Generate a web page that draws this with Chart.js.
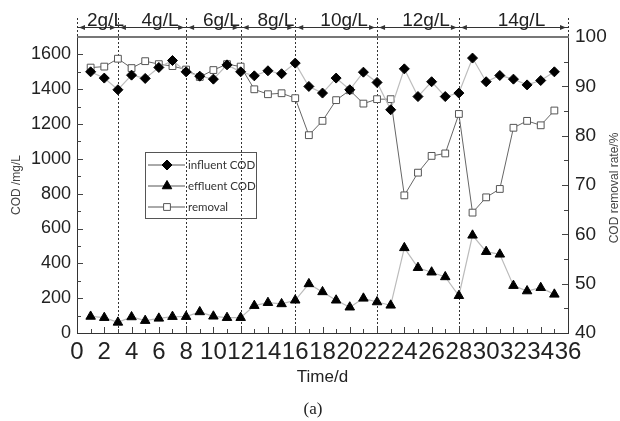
<!DOCTYPE html>
<html>
<head>
<meta charset="utf-8">
<script src="https://cdn.jsdelivr.net/npm/chart.js@4.4.1/dist/chart.umd.min.js"></script>
<style>
  html, body { margin: 0; padding: 0; background: #fff; }
  .chart-wrap { width: 620px; height: 421px; position: relative; }
</style>
</head>
<body>
<div class="chart-wrap"><canvas id="chart"></canvas></div>
<script>
const days = [1, 2, 3, 4, 5, 6, 7, 8, 9, 10, 11, 12, 13, 14, 15, 16, 17, 18, 19, 20, 21, 22, 23, 24, 25, 26, 27, 28, 29, 30, 31, 32, 33, 34, 35];
const influentCOD = [1500, 1464, 1397, 1481, 1462, 1525, 1565, 1500, 1475, 1458, 1540, 1500, 1477, 1506, 1489, 1550, 1416, 1378, 1464, 1397, 1498, 1439, 1282, 1517, 1358, 1443, 1358, 1378, 1579, 1443, 1479, 1458, 1425, 1450, 1500];
const effluentCOD = [95, 88, 61, 92, 71, 84, 94, 94, 121, 96, 88, 88, 157, 174, 167, 188, 282, 236, 188, 148, 199, 178, 159, 489, 375, 349, 322, 214, 561, 467, 452, 272, 241, 260, 222];
const removalRate = [93.8, 94.0, 95.6, 93.7, 95.1, 94.5, 94.1, 93.4, 91.9, 93.3, 94.5, 94.0, 89.4, 88.4, 88.6, 87.6, 80.1, 83.0, 87.2, 89.2, 86.5, 87.4, 87.4, 67.9, 72.5, 75.9, 76.4, 84.4, 64.4, 67.5, 69.2, 81.6, 83.0, 82.1, 85.1];

const stageBounds = [0, 3, 8, 12, 16, 22, 28, 36];
const stageLabels = ['2g/L', '4g/L', '6g/L', '8g/L', '10g/L', '12g/L', '14g/L'];
const codTicks = [0, 200, 400, 600, 800, 1000, 1200, 1400, 1600];
const rateTicks = [40, 50, 60, 70, 80, 90, 100];
const dayTicks = [0, 2, 4, 6, 8, 10, 12, 14, 16, 18, 20, 22, 24, 26, 28, 30, 32, 34, 36];

const FONT = "'Liberation Sans', Arial, sans-serif";
const INK = '#222';

const toPoints = values => values.map((v, i) => ({ x: days[i], y: v }));

// inward tick marks, dotted stage lines, header arrows, legend, captions
const decorPlugin = {
  id: 'decor',
  beforeDatasetsDraw: chart => {
    const ctx = chart.ctx;
    const { left, right, top, bottom } = chart.chartArea;
    const sx = chart.scales.x;
    const sy = chart.scales.y;
    const sy1 = chart.scales.y1;
    ctx.save();
    ctx.strokeStyle = '#333';
    ctx.lineWidth = 1;
    // stage separators
    ctx.setLineDash([2, 2]);
    stageBounds.forEach(d => {
      const px = Math.round(sx.getPixelForValue(d)) + 0.5;
      const yEnd = (d === stageBounds[0] || d === stageBounds[stageBounds.length - 1]) ? top : bottom;
      ctx.beginPath();
      ctx.moveTo(px, 18);
      ctx.lineTo(px, yEnd);
      ctx.stroke();
    });
    ctx.setLineDash([]);
    // tick marks pointing into the plot
    ctx.strokeStyle = '#444';
    for (let d = 1; d < 36; d++) {
      const px = Math.round(sx.getPixelForValue(d)) + 0.5;
      const len = d % 2 === 0 ? 6 : 4;
      ctx.beginPath();
      ctx.moveTo(px, bottom);
      ctx.lineTo(px, bottom - len);
      ctx.stroke();
    }
    for (let v = 100; v < 1700; v += 100) {
      const py = Math.round(sy.getPixelForValue(v)) + 0.5;
      const len = v % 200 === 0 ? 6 : 4;
      ctx.beginPath();
      ctx.moveTo(left, py);
      ctx.lineTo(left + len, py);
      ctx.stroke();
    }
    for (let v = 45; v < 100; v += 5) {
      const py = Math.round(sy1.getPixelForValue(v)) + 0.5;
      const len = v % 10 === 0 ? 6 : 4;
      ctx.beginPath();
      ctx.moveTo(right, py);
      ctx.lineTo(right - len, py);
      ctx.stroke();
    }
    // top border of the plot box
    ctx.strokeStyle = '#777';
    ctx.lineWidth = 2;
    ctx.beginPath();
    ctx.moveTo(left, top);
    ctx.lineTo(right + 1, top);
    ctx.stroke();
    ctx.restore();
  },
  afterDraw: chart => {
    const ctx = chart.ctx;
    const { left, right, top, bottom } = chart.chartArea;
    const sx = chart.scales.x;
    ctx.save();
    // header arrow line
    const arrowY = 27.5;
    ctx.strokeStyle = '#333';
    ctx.fillStyle = '#333';
    ctx.lineWidth = 1;
    ctx.beginPath();
    ctx.moveTo(left, arrowY);
    ctx.lineTo(right, arrowY);
    ctx.stroke();
    const arrow = (tipX, dir) => {
      ctx.beginPath();
      ctx.moveTo(tipX, arrowY);
      ctx.lineTo(tipX - dir * 6, arrowY - 2.5);
      ctx.lineTo(tipX - dir * 6, arrowY + 2.5);
      ctx.closePath();
      ctx.fill();
    };
    ctx.font = `19px ${FONT}`;
    ctx.textAlign = 'center';
    ctx.textBaseline = 'alphabetic';
    stageLabels.forEach((label, i) => {
      const x0 = sx.getPixelForValue(stageBounds[i]);
      const x1 = sx.getPixelForValue(stageBounds[i + 1]);
      ctx.fillStyle = '#333';
      arrow(x0 + 2, -1);
      arrow(x1 - 2, 1);
      ctx.fillStyle = INK;
      ctx.fillText(label, (x0 + x1) / 2 + 8, 26);
    });

    // legend
    const lx = left + 68;
    const ly = top + 115;
    ctx.strokeStyle = '#555';
    ctx.lineWidth = 1;
    ctx.strokeRect(lx + 0.5, ly + 0.5, 111, 66);
    ctx.font = `11.5px Lato, 'Open Sans', sans-serif`;
    ctx.textAlign = 'left';
    ctx.textBaseline = 'middle';
    chart.data.datasets.forEach((ds, i) => {
      const ry = ly + 13 + i * 21;
      ctx.strokeStyle = '#555';
      ctx.beginPath();
      ctx.moveTo(lx + 3, ry);
      ctx.lineTo(lx + 40, ry);
      ctx.stroke();
      ctx.fillStyle = ds.pointBackgroundColor;
      ctx.strokeStyle = ds.pointBorderColor;
      ctx.lineWidth = 1;
      Chart.helpers.drawPoint(ctx, {
        pointStyle: ds.pointStyle,
        radius: ds.pointRadius,
        rotation: 0,
        borderWidth: 1,
      }, lx + 22, ry);
      ctx.fillStyle = '#333';
      ctx.fillText(ds.label, lx + 43, ry);
    });

    // right axis title
    ctx.save();
    ctx.translate(615, (top + bottom) / 2 + 3);
    ctx.rotate(-Math.PI / 2);
    ctx.font = `12px ${FONT}`;
    ctx.fillStyle = '#444';
    ctx.textAlign = 'center';
    ctx.textBaseline = 'middle';
    ctx.fillText('COD removal rate/%', 0, 0);
    ctx.restore();

    // caption
    ctx.font = "17px 'Liberation Serif', 'Times New Roman', serif";
    ctx.fillStyle = INK;
    ctx.textAlign = 'center';
    ctx.textBaseline = 'middle';
    ctx.fillText('(a)', 313, 410);
    ctx.restore();
  },
};

const chartElement = document.getElementById('chart');
new Chart(chartElement, {
  type: 'line',
  data: {
    datasets: [
      {
        label: 'influent COD',
        data: toPoints(influentCOD),
        yAxisID: 'y',
        borderColor: '#bdbdbd',
        borderWidth: 1.2,
        pointStyle: 'rectRot',
        pointRadius: 5,
        pointBackgroundColor: '#000',
        pointBorderColor: '#000',
        pointBorderWidth: 1,
      },
      {
        label: 'effluent COD',
        data: toPoints(effluentCOD),
        yAxisID: 'y',
        borderColor: '#bbb',
        borderWidth: 1.2,
        pointStyle: 'triangle',
        pointRadius: 5.5,
        pointBackgroundColor: '#000',
        pointBorderColor: '#000',
        pointBorderWidth: 1,
      },
      {
        label: 'removal',
        data: toPoints(removalRate),
        yAxisID: 'y1',
        borderColor: '#666',
        borderWidth: 1,
        pointStyle: 'rect',
        pointRadius: 4.8,
        pointBackgroundColor: '#fff',
        pointBorderColor: '#555',
        pointBorderWidth: 1,
      },
    ],
  },
  plugins: [decorPlugin],
  options: {
    responsive: true,
    maintainAspectRatio: false,
    animation: false,
    layout: { padding: { top: 37, left: 0, right: 0, bottom: 0 } },
    plugins: {
      legend: { display: false },
      tooltip: { enabled: false },
    },
    scales: {
      x: {
        type: 'linear',
        min: 0,
        max: 36,
        grid: { display: false, drawTicks: false },
        border: { display: true, color: '#333', width: 1 },
        afterBuildTicks: scale => { scale.ticks = dayTicks.map(v => ({ value: v })); },
        afterFit: scale => { scale.height = 88; },
        ticks: {
          autoSkip: false,
          maxRotation: 0,
          minRotation: 0,
          padding: 5,
          color: INK,
          font: { size: 24, family: FONT },
          callback: value => String(value),
        },
        title: {
          display: true,
          text: 'Time/d',
          color: INK,
          font: { size: 17, family: FONT },
          padding: { top: 4, bottom: 33 },
        },
      },
      y: {
        position: 'left',
        min: 0,
        max: 1700,
        grid: { display: false, drawTicks: false },
        border: { display: true, color: '#333', width: 1 },
        afterBuildTicks: scale => { scale.ticks = codTicks.map(v => ({ value: v })); },
        afterFit: scale => { scale.width = 77; },
        ticks: {
          padding: 6,
          color: INK,
          font: { size: 18, family: FONT },
          callback: value => String(value),
        },
        title: {
          display: true,
          text: 'COD /mg/L',
          color: '#444',
          font: { size: 12, family: FONT },
          padding: { top: 9, bottom: 0 },
        },
      },
      y1: {
        position: 'right',
        min: 40,
        max: 100,
        grid: { display: false, drawTicks: false },
        border: { display: true, color: '#333', width: 1 },
        afterBuildTicks: scale => { scale.ticks = rateTicks.map(v => ({ value: v })); },
        afterFit: scale => { scale.width = 52; },
        ticks: {
          padding: 7,
          color: INK,
          font: { size: 19, family: FONT },
          callback: value => String(value),
        },
      },
    },
  },
});
</script>
</body>
</html>
